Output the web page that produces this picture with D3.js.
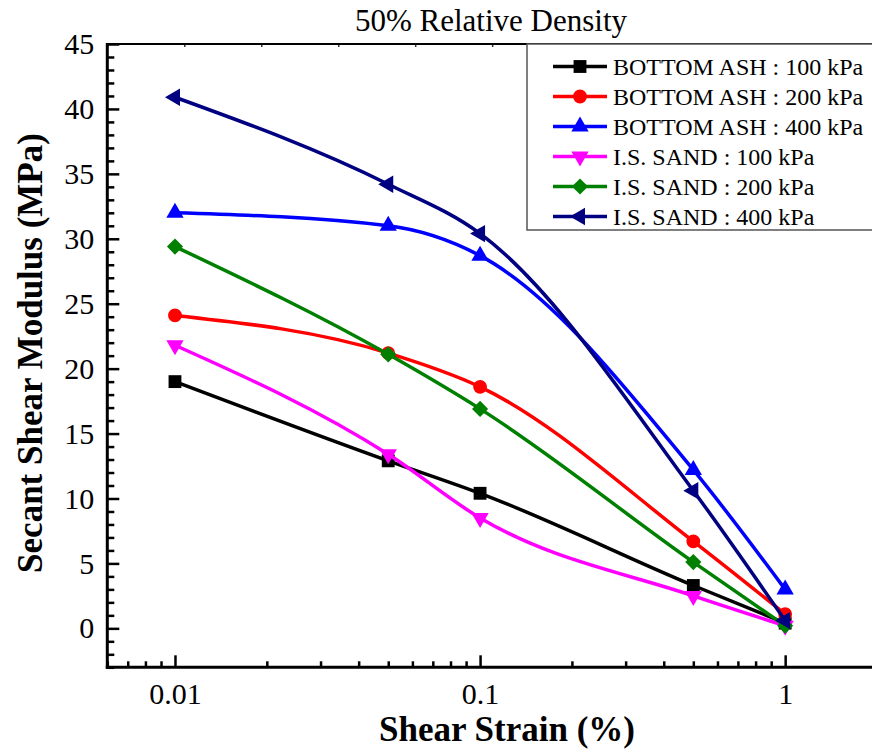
<!DOCTYPE html>
<html>
<head>
<meta charset="utf-8">
<script src="https://cdn.jsdelivr.net/npm/d3@7"></script>
<style>
  html, body { margin: 0; padding: 0; background: #fff; }
  svg { display: block; }
  svg text { font-family: "Times New Roman", "Liberation Serif", serif !important; fill: #000; }
</style>
</head>
<body>
<svg id="chart" width="872" height="752"></svg>
<script>
// Shear strain levels (%)
const strains = [0.01, 0.05, 0.1, 0.5, 1];

// Secant shear modulus (MPa) for each material / confining pressure
const bottomAsh100 = [19.0, 12.9, 10.4, 3.3, 0.4];
const bottomAsh200 = [24.1, 21.2, 18.6, 6.7, 1.1];
const bottomAsh400 = [32.0, 31.0, 28.7, 12.2, 3.0];
const sand100      = [21.8, 13.4, 8.5, 2.5, 0.2];
const sand200      = [29.4, 21.1, 16.9, 5.1, 0.2];
const sand400      = [40.9, 34.2, 30.4, 10.6, 0.6];

const seriesNames = [
  "BOTTOM ASH : 100 kPa",
  "BOTTOM ASH : 200 kPa",
  "BOTTOM ASH : 400 kPa",
  "I.S. SAND : 100 kPa",
  "I.S. SAND : 200 kPa",
  "I.S. SAND : 400 kPa"
];
const seriesValues = [bottomAsh100, bottomAsh200, bottomAsh400, sand100, sand200, sand400];
const seriesColors = ["#000000", "#ff0000", "#0000ff", "#ff00ff", "#008000", "#000080"];
const seriesShapes = ["square", "circle", "triangleUp", "triangleDown", "diamond", "triangleLeft"];

// Axis ticks
const xMajorTicks = [0.01, 0.1, 1];
const xMinorTicks = [0.006, 0.007, 0.008, 0.009,
                     0.02, 0.03, 0.04, 0.05, 0.06, 0.07, 0.08, 0.09,
                     0.2, 0.3, 0.4, 0.5, 0.6, 0.7, 0.8, 0.9];
const yMajorTicks = [0, 5, 10, 15, 20, 25, 30, 35, 40, 45];
const yMinorTicks = d3.range(-3, 46, 1).filter(v => v % 5 !== 0);

const SERIF = '"Times New Roman", "Liberation Serif", serif';

const svg = d3.select("#chart");

const plotLeft = 107.3, plotRight = 877, plotTop = 44, plotBottom = 667.3;

const x = d3.scaleLog().domain([0.006, 2]).range([plotLeft, plotRight]);
const y = d3.scaleLinear().domain([-3, 45]).range([plotBottom, plotTop]);
// unlabelled linear ticks along the top edge
const xTop = d3.scaleLinear().domain([0, 10]).range([plotLeft, plotRight]);

// ---- axes ----
const fmtX = d => (d === 1 ? "1" : String(d));

// y minor
svg.append("g")
  .attr("transform", `translate(${plotLeft},0)`)
  .call(d3.axisLeft(y).tickValues(yMinorTicks).tickSize(-7).tickFormat(""))
  .call(g => g.select(".domain").remove())
  .call(g => g.selectAll("line").attr("stroke-width", 2.5));

// y major
svg.append("g")
  .attr("transform", `translate(${plotLeft},0)`)
  .attr("font-family", SERIF)
  .call(d3.axisLeft(y).tickValues(yMajorTicks).tickSize(-12).tickPadding(13))
  .attr("font-family", SERIF)
  .attr("font-size", 30)
  .call(g => g.select(".domain").remove())
  .call(g => g.selectAll("line").attr("stroke-width", 2.5));

// x minor
svg.append("g")
  .attr("transform", `translate(0,${plotBottom})`)
  .call(d3.axisBottom(x).tickValues(xMinorTicks).tickSize(-6).tickFormat(""))
  .call(g => g.select(".domain").remove())
  .call(g => g.selectAll("line").attr("stroke-width", 2.5));

// x major
svg.append("g")
  .attr("transform", `translate(0,${plotBottom})`)
  .call(d3.axisBottom(x).tickValues(xMajorTicks).tickSize(-12).tickPadding(15).tickFormat(fmtX))
  .attr("font-family", SERIF)
  .attr("font-size", 30)
  .call(g => g.select(".domain").remove())
  .call(g => g.selectAll("line").attr("stroke-width", 2.5));

// top small ticks
svg.append("g")
  .attr("transform", `translate(0,${plotTop})`)
  .call(d3.axisTop(xTop).ticks(10).tickSize(-3).tickFormat(""))
  .call(g => g.select(".domain").remove())
  .call(g => g.selectAll("line").attr("stroke-width", 1.5).attr("stroke", "#333"));

// frame
svg.append("line").attr("x1", plotLeft).attr("x2", plotRight).attr("y1", plotTop).attr("y2", plotTop)
  .attr("stroke", "#000").attr("stroke-width", 2);
svg.append("line").attr("x1", plotLeft).attr("x2", plotLeft).attr("y1", plotTop - 1).attr("y2", plotBottom + 1.5)
  .attr("stroke", "#000").attr("stroke-width", 3);
svg.append("line").attr("x1", plotLeft - 1.5).attr("x2", plotRight).attr("y1", plotBottom).attr("y2", plotBottom)
  .attr("stroke", "#000").attr("stroke-width", 3);
svg.append("line").attr("x1", plotRight).attr("x2", plotRight).attr("y1", plotTop).attr("y2", plotBottom)
  .attr("stroke", "#000").attr("stroke-width", 2);

// ---- titles ----
svg.append("text")
  .attr("x", 491).attr("y", 31)
  .attr("text-anchor", "middle")
  .attr("font-family", SERIF)
  .attr("font-size", 31)
  .text("50% Relative Density");

svg.append("text")
  .attr("x", 507).attr("y", 741)
  .attr("text-anchor", "middle")
  .attr("font-family", SERIF)
  .attr("font-size", 35).attr("font-weight", "bold")
  .text("Shear Strain (%)");

svg.append("text")
  .attr("transform", "translate(42,353) rotate(-90)")
  .attr("text-anchor", "middle")
  .attr("font-family", SERIF)
  .attr("font-size", 35).attr("font-weight", "bold")
  .text("Secant Shear Modulus (MPa)");

// ---- markers ----
function markerPath(shape) {
  switch (shape) {
    case "square": return d3.symbol(d3.symbolSquare, 165)();
    case "circle": return d3.symbol(d3.symbolCircle, 150)();
    case "diamond": return d3.symbol(d3.symbolSquare, 130)();
    default: return d3.symbol(d3.symbolTriangle, 130)();
  }
}
function markerRotation(shape) {
  switch (shape) {
    case "diamond": return 45;
    case "triangleDown": return 180;
    case "triangleLeft": return -90;
    default: return 0;
  }
}

const line = d3.line()
  .x((d, i) => x(strains[i]))
  .y(d => y(d))
  .curve(d3.curveMonotoneX);

seriesValues.forEach((vals, si) => {
  const g = svg.append("g");
  g.append("path")
    .attr("d", line(vals))
    .attr("fill", "none")
    .attr("stroke", seriesColors[si])
    .attr("stroke-width", 3.5);
  g.selectAll("path.mk")
    .data(vals)
    .join("path")
    .attr("class", "mk")
    .attr("d", markerPath(seriesShapes[si]))
    .attr("transform", (d, i) => `translate(${x(strains[i])},${y(d)}) rotate(${markerRotation(seriesShapes[si])})`)
    .attr("fill", seriesColors[si]);
});

// ---- legend ----
const legend = svg.append("g");
legend.append("rect")
  .attr("x", 527).attr("y", plotTop)
  .attr("width", 360).attr("height", 230 - plotTop)
  .attr("fill", "#fff")
  .attr("stroke", "#555").attr("stroke-width", 1.5);

const rowY = i => 66.5 + i * 30;
seriesNames.forEach((name, i) => {
  legend.append("line")
    .attr("x1", 553).attr("x2", 607)
    .attr("y1", rowY(i)).attr("y2", rowY(i))
    .attr("stroke", seriesColors[i]).attr("stroke-width", 3.5);
  legend.append("path")
    .attr("d", markerPath(seriesShapes[i]))
    .attr("transform", `translate(580,${rowY(i)}) rotate(${markerRotation(seriesShapes[i])})`)
    .attr("fill", seriesColors[i]);
  legend.append("text")
    .attr("x", 613).attr("y", rowY(i) + 8)
    .attr("font-family", SERIF)
    .attr("font-size", 24)
    .text(name);
});
</script>
</body>
</html>
